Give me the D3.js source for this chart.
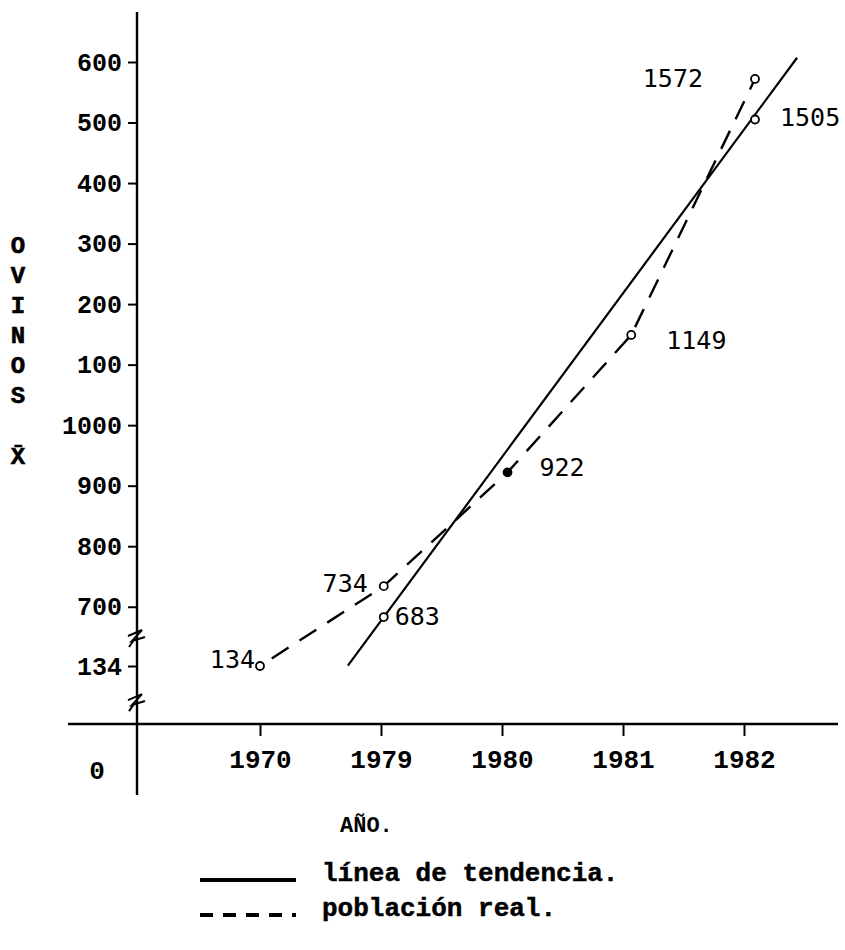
<!DOCTYPE html>
<html>
<head>
<meta charset="utf-8">
<script src="https://cdn.jsdelivr.net/npm/d3@7"></script>
<style>
  body { margin: 0; background: #fff; }
  svg { display: block; }
  .tick-y { font-family: "Liberation Mono", monospace; font-weight: bold; font-size: 25px; }
  .tick-x { font-family: "Liberation Mono", monospace; font-weight: bold; font-size: 26px; }
  .value { font-family: "DejaVu Sans Mono", monospace; font-size: 25px; }
  .title { font-family: "Liberation Mono", monospace; font-weight: bold; }
  .legend { font-family: "Liberation Mono", monospace; font-weight: bold; font-size: 26px; stroke: #000; stroke-width: 0.5px; }
</style>
</head>
<body>
<svg width="845" height="950"></svg>
<script>
"use strict";

// categories on the x axis
const years = ["1970", "1979", "1980", "1981", "1982"];
// real population (dashed line)
const realValues = [134, 734, 922, 1149, 1572];
// trend line, labelled points
const trendYears = ["1979", "1982"];
const trendValues = [683, 1505];
// trend line ends (position in year steps, value)
const trendEnds = [[0.71, 140], [4.34, 1607]];

// y ticks: real value and the printed label (axis is broken twice)
const yTickValues = [134, 700, 800, 900, 1000, 1100, 1200, 1300, 1400, 1500, 1600];
const yTickLabels = ["134", "700", "800", "900", "1000", "100", "200", "300", "400", "500", "600"];
const yBreaks = [53, 650];

const svg = d3.select("svg");

const axisX = 137;
const axisY = 724;

// broken scale: 0..134 and 134..650 are squeezed
const yScale = d3.scaleLinear()
    .domain([0, 134, 650, 1600])
    .range([axisY, 666, 637, 62]);

// tick scale and mark scale (the hand drawn points sit a bit right of the ticks)
const xTicks = d3.scaleLinear().domain([0, years.length - 1]).range([260, 744]);
const xMarks = d3.scaleLinear().domain([0, years.length - 1]).range([260, 755]);

// x axis
svg.append("line")
    .attr("x1", 68).attr("x2", 838)
    .attr("y1", axisY).attr("y2", axisY)
    .attr("stroke", "#000").attr("stroke-width", 2.6);

svg.append("g")
    .attr("transform", `translate(0, ${axisY})`)
    .call(d3.axisBottom(xTicks)
        .tickValues(d3.range(years.length))
        .tickFormat((d) => years[d])
        .tickSize(12)
        .tickPadding(14))
    .call((g) => g.select(".domain").remove())
    .call((g) => g.selectAll("line").attr("stroke-width", 2))
    .call((g) => g.selectAll("text")
        .attr("class", "tick-x")
        .attr("font-family", null).attr("font-size", null));

svg.append("text")
    .attr("class", "tick-x")
    .attr("x", 97).attr("y", 779)
    .attr("text-anchor", "middle")
    .text("0");

// y axis
svg.append("line")
    .attr("x1", axisX).attr("x2", axisX)
    .attr("y1", 12).attr("y2", 795)
    .attr("stroke", "#000").attr("stroke-width", 2.4);

svg.append("g")
    .attr("transform", `translate(${axisX}, 0)`)
    .call(d3.axisLeft(yScale)
        .tickValues(yTickValues)
        .tickFormat((d, i) => yTickLabels[i])
        .tickSize(9)
        .tickPadding(6))
    .call((g) => g.select(".domain").remove())
    .call((g) => g.selectAll("line").attr("stroke-width", 2))
    .call((g) => g.selectAll("text")
        .attr("class", "tick-y")
        .attr("font-family", null).attr("font-size", null));

// axis break marks (small slanted z)
svg.selectAll(".break")
    .data(yBreaks)
    .enter()
    .append("path")
    .attr("class", "break")
    .attr("d", (d) => {
        const y = yScale(d);
        return `M${axisX - 9},${y - 1} L${axisX + 5},${y - 7} L${axisX - 5},${y + 4} L${axisX + 8},${y} M${axisX - 3},${y + 3} L${axisX - 8},${y + 10}`;
    })
    .attr("fill", "none")
    .attr("stroke", "#000")
    .attr("stroke-width", 2);

// trend line
const line = d3.line()
    .x((d) => xMarks(d[0]))
    .y((d) => yScale(d[1]));

svg.append("path")
    .datum(trendEnds)
    .attr("d", line)
    .attr("fill", "none")
    .attr("stroke", "#000")
    .attr("stroke-width", 2.2);

// real population, dashed
svg.append("path")
    .datum(realValues.map((v, i) => [i, v]))
    .attr("d", line)
    .attr("fill", "none")
    .attr("stroke", "#000")
    .attr("stroke-width", 2.4)
    .attr("stroke-dasharray", "20 13")
    .attr("stroke-dashoffset", -14);

// points
const points = realValues.map((v, i) => ({ i: i, v: v }))
    .concat(trendValues.map((v, k) => ({ i: years.indexOf(trendYears[k]), v: v })));

svg.selectAll(".pt")
    .data(points)
    .enter()
    .append("circle")
    .attr("class", "pt")
    .attr("cx", (d) => xMarks(d.i))
    .attr("cy", (d) => yScale(d.v))
    .attr("r", 4)
    .attr("fill", (d) => d.v === 922 ? "#000" : "#fff")
    .attr("stroke", "#000")
    .attr("stroke-width", 1.8);

// value labels (placement offsets as on the drawing)
const labelOffsets = {
    134: [-5, 2, "end"],
    734: [-16, 6, "end"],
    922: [32, 4, "start"],
    1149: [35, 14, "start"],
    1572: [-52, 8, "end"],
    683: [11, 8, "start"],
    1505: [25, 6, "start"]
};

svg.selectAll(".value")
    .data(points)
    .enter()
    .append("text")
    .attr("class", "value")
    .attr("x", (d) => xMarks(d.i) + labelOffsets[d.v][0])
    .attr("y", (d) => yScale(d.v) + labelOffsets[d.v][1])
    .attr("text-anchor", (d) => labelOffsets[d.v][2])
    .text((d) => d.v);

// y title, one letter per row
const yTitle = ["O", "V", "I", "N", "O", "S"];
svg.selectAll(".ylet")
    .data(yTitle)
    .enter()
    .append("text")
    .attr("class", "title")
    .attr("x", 18)
    .attr("y", (d, i) => 253 + i * 30)
    .attr("text-anchor", "middle")
    .attr("font-size", 24)
    .attr("stroke", "#000")
    .attr("stroke-width", 0.6)
    .text((d) => d);

svg.append("text")
    .attr("class", "title")
    .attr("x", 18).attr("y", 464)
    .attr("text-anchor", "middle")
    .attr("font-size", 24)
    .attr("stroke", "#000")
    .attr("stroke-width", 0.6)
    .text("X\u0304");

// x title
svg.append("text")
    .attr("class", "title")
    .attr("x", 340).attr("y", 832)
    .attr("font-size", 22)
    .text("AÑO.");

// legend
const legendItems = ["línea de tendencia.", "población real."];
const legendDash = [null, "13 10"];

const legend = svg.selectAll(".leg")
    .data(legendItems)
    .enter()
    .append("g")
    .attr("transform", (d, i) => `translate(200, ${880 + i * 35})`);

legend.append("line")
    .attr("x1", 0).attr("x2", 96)
    .attr("y1", 0).attr("y2", 0)
    .attr("stroke", "#000")
    .attr("stroke-width", 4)
    .attr("stroke-dasharray", (d, i) => legendDash[i]);

legend.append("text")
    .attr("class", "legend")
    .attr("x", 122)
    .attr("y", 1)
    .text((d) => d);
</script>
</body>
</html>
